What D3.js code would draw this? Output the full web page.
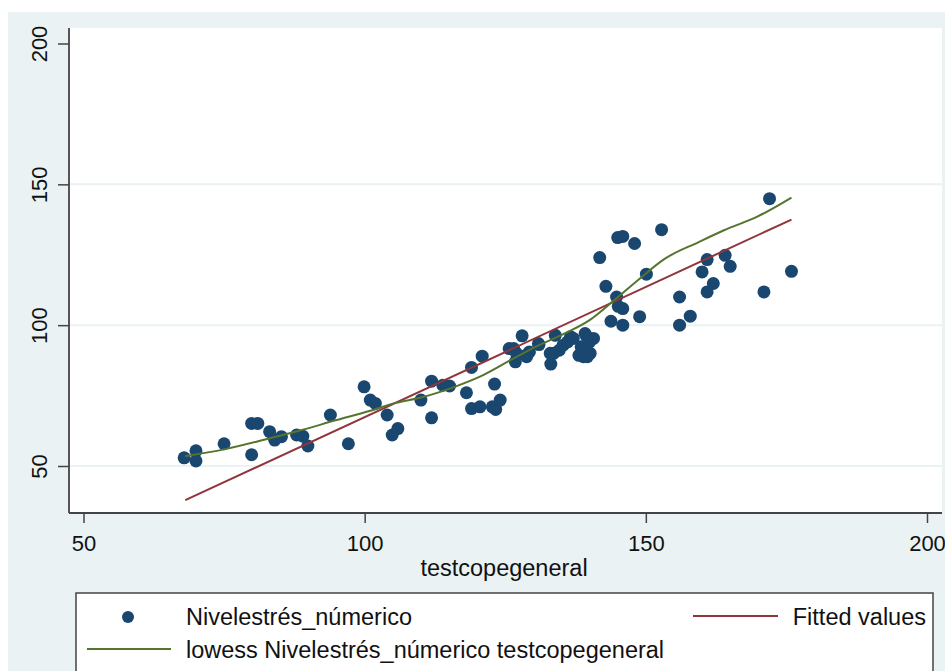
<!DOCTYPE html>
<meta charset="utf-8">
<script src="https://d3js.org/d3.v7.min.js"></script>
<style>
  body { margin: 0; background: #fff; }
  svg { display: block; font-family: "Liberation Sans", Arial, sans-serif; }
</style>
<div id="my_dataviz"></div>
<script>
  // scatter: testcopegeneral vs Nivelestrés_númerico
  var scatterX = [67.9, 70.0, 70.0, 75.0, 79.9, 81.0, 79.9, 83.1, 84.0, 85.2, 87.9, 89.0, 89.9, 93.9, 97.1,
    99.9, 101.0, 101.9, 104.0, 104.9, 105.9, 110.0, 111.9, 111.9, 113.9, 115.1, 118.1, 119.0, 119.0, 120.9,
    120.5, 122.7, 123.1, 123.3, 124.1, 125.7, 126.5, 126.8, 128.0, 128.7, 129.3, 131.0, 133.1, 133.6, 133.9,
    134.6, 135.3, 136.1, 136.6, 138.1, 138.5, 139.2, 139.6, 140.0, 140.7, 141.8, 142.9, 143.8, 144.8, 145.0,
    145.9, 145.9, 145.9, 148.0, 148.9, 150.1, 152.8, 156.0, 156.0, 157.9, 160.0, 160.9, 160.9, 162.0, 164.1,
    165.0, 171.0, 172.0, 175.9, 127.0, 128.8, 133.0, 139.5, 140.1, 138.9, 137.1, 130.9, 145.1];
  var scatterY = [52.9, 55.4, 51.8, 57.9, 65.1, 65.1, 54.0, 62.2, 59.2, 60.4, 61.0, 60.6, 57.1, 68.1, 57.9,
    78.1, 73.4, 72.2, 68.1, 61.0, 63.3, 73.4, 80.1, 67.1, 78.7, 78.4, 76.0, 85.0, 70.4, 89.0,
    71.0, 71.0, 79.1, 70.1, 73.4, 91.7, 91.7, 87.0, 96.2, 89.3, 90.5, 93.1, 86.2, 90.0, 96.4,
    91.1, 92.9, 94.1, 95.9, 89.3, 92.3, 97.0, 88.8, 94.1, 95.3, 124.0, 113.8, 101.4, 110.0, 131.1,
    131.5, 105.9, 100.0, 129.0, 103.0, 118.1, 133.9, 110.0, 100.0, 103.2, 118.9, 123.3, 111.8, 114.8, 124.8,
    120.9, 111.8, 144.9, 119.1, 90.0, 88.8, 90.0, 95.9, 90.0, 88.8, 95.3, 93.5, 106.7];

  // lowess curve
  var lowessX = [68.1, 75.0, 82.3, 88.3, 95.0, 101.0, 105.5, 110.0, 116.0, 120.5, 126.5, 131.0, 135.5,
    140.0, 144.4, 148.9, 153.4, 159.4, 163.9, 169.9, 175.9];
  var lowessY = [53.5, 55.9, 59.4, 62.5, 66.3, 69.6, 72.4, 74.3, 78.1, 81.7, 88.2, 92.9, 97.0,
    101.8, 108.9, 116.5, 123.6, 129.5, 133.7, 138.6, 145.3];

  // fitted values (straight line ends)
  var fitX = [68.1, 175.9];
  var fitY = [37.9, 137.5];

  var xTicks = [50, 100, 150, 200];
  var yTicks = [50, 100, 150, 200];

  var width = 945, height = 671;
  var navy = "#1a476f", maroon = "#90353b", green = "#55752f", bg = "#eaf2f3";

  var svg = d3.select("#my_dataviz")
    .append("svg")
      .attr("width", width)
      .attr("height", height);

  // outer graph region
  svg.append("rect")
    .attr("x", 8).attr("y", 12)
    .attr("width", width - 8).attr("height", height - 12)
    .attr("fill", bg);

  // plot region
  var plotLeft = 69, plotRight = 942, plotTop = 28, plotBottom = 513;
  svg.append("rect")
    .attr("x", plotLeft).attr("y", plotTop)
    .attr("width", plotRight - plotLeft).attr("height", plotBottom - plotTop)
    .attr("fill", "white");

  var x = d3.scaleLinear().domain([50, 200]).range([83.5, 927]);
  var y = d3.scaleLinear().domain([50, 200]).range([466, 43.5]);

  // gridlines
  svg.append("g")
    .selectAll("line")
    .data(yTicks.filter(function(d) { return d < 200; }))
    .enter()
    .append("line")
      .attr("x1", plotLeft).attr("x2", plotRight)
      .attr("y1", function(d) { return y(d); })
      .attr("y2", function(d) { return y(d); })
      .attr("stroke", bg)
      .attr("stroke-width", 2);

  // y axis
  var yAxis = svg.append("g")
    .attr("transform", "translate(" + plotLeft + ",0)")
    .call(d3.axisLeft(y).tickValues(yTicks).tickSize(11).tickFormat(d3.format("d")));
  yAxis.select(".domain").remove();
  yAxis.selectAll(".tick line").attr("stroke", "#444").attr("stroke-width", 1.5);
  yAxis.selectAll(".tick text")
    .attr("x", null).attr("dy", null)
    .attr("transform", "translate(-22,0) rotate(-90)")
    .attr("text-anchor", "middle")
    .attr("font-size", 22)
    .attr("fill", "#111");
  svg.append("line")
    .attr("x1", plotLeft).attr("x2", plotLeft)
    .attr("y1", plotTop).attr("y2", plotBottom)
    .attr("stroke", "#444").attr("stroke-width", 1.8);

  // x axis
  var xAxis = svg.append("g")
    .attr("transform", "translate(0," + plotBottom + ")")
    .call(d3.axisBottom(x).tickValues(xTicks).tickSize(10).tickFormat(d3.format("d")));
  xAxis.select(".domain").remove();
  xAxis.selectAll(".tick line").attr("stroke", "#444").attr("stroke-width", 1.5);
  xAxis.selectAll(".tick text")
    .attr("y", 38).attr("dy", null)
    .attr("font-size", 22)
    .attr("fill", "#111");
  svg.append("line")
    .attr("x1", plotLeft).attr("x2", plotRight)
    .attr("y1", plotBottom).attr("y2", plotBottom)
    .attr("stroke", "#444").attr("stroke-width", 1.8);

  svg.append("text")
    .attr("x", 504).attr("y", 576)
    .attr("text-anchor", "middle")
    .attr("font-size", 23.5)
    .attr("fill", "#111")
    .text("testcopegeneral");

  // points
  var pts = scatterX.map(function(d, i) { return {x: d, y: scatterY[i]}; });
  svg.append("g")
    .selectAll("circle")
    .data(pts)
    .enter()
    .append("circle")
      .attr("cx", function(d) { return x(d.x); })
      .attr("cy", function(d) { return y(d.y); })
      .attr("r", 6.5)
      .attr("fill", navy);

  // fitted line
  var line = d3.line()
    .x(function(d) { return x(d[0]); })
    .y(function(d) { return y(d[1]); });
  svg.append("path")
    .datum(fitX.map(function(d, i) { return [d, fitY[i]]; }))
    .attr("fill", "none")
    .attr("stroke", maroon)
    .attr("stroke-width", 2)
    .attr("d", line);

  // lowess line
  svg.append("path")
    .datum(lowessX.map(function(d, i) { return [d, lowessY[i]]; }))
    .attr("fill", "none")
    .attr("stroke", green)
    .attr("stroke-width", 2)
    .attr("d", line.curve(d3.curveMonotoneX));

  // legend
  var legend = svg.append("g");
  legend.append("rect")
    .attr("x", 76).attr("y", 593)
    .attr("width", 857).attr("height", 100)
    .attr("fill", "white")
    .attr("stroke", "#444")
    .attr("stroke-width", 1.5);
  legend.append("circle")
    .attr("cx", 128).attr("cy", 617).attr("r", 6)
    .attr("fill", navy);
  legend.append("text")
    .attr("x", 186).attr("y", 625)
    .attr("font-size", 23.5).attr("fill", "#111")
    .text("Nivelestrés_númerico");
  legend.append("line")
    .attr("x1", 693).attr("x2", 778).attr("y1", 616).attr("y2", 616)
    .attr("stroke", maroon).attr("stroke-width", 2);
  legend.append("text")
    .attr("x", 926).attr("y", 625)
    .attr("text-anchor", "end")
    .attr("font-size", 23.5).attr("fill", "#111")
    .text("Fitted values");
  legend.append("line")
    .attr("x1", 87).attr("x2", 171).attr("y1", 649).attr("y2", 649)
    .attr("stroke", green).attr("stroke-width", 2);
  legend.append("text")
    .attr("x", 186).attr("y", 658)
    .attr("font-size", 23.5).attr("fill", "#111")
    .text("lowess Nivelestrés_númerico testcopegeneral");
</script>
